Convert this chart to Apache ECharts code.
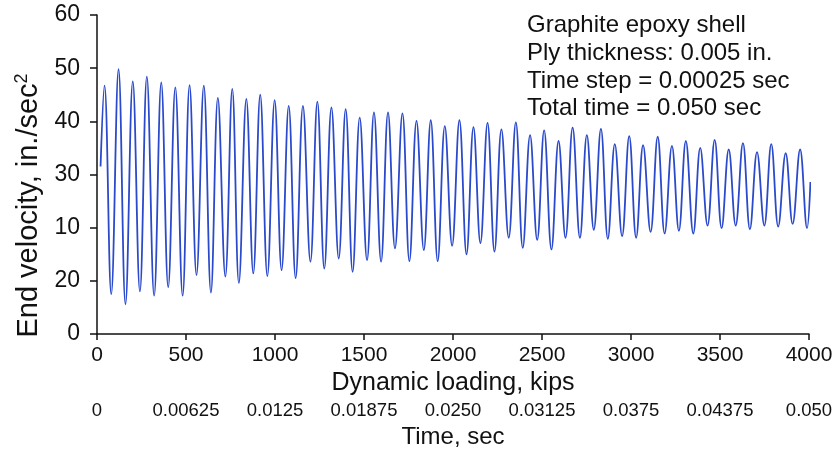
<!DOCTYPE html>
<html>
<head>
<meta charset="utf-8">
<script src="https://cdn.jsdelivr.net/npm/echarts@6/dist/echarts.min.js"></script>
<style>html,body{margin:0;padding:0;background:#fff}#c{width:838px;height:452px}</style>
</head>
<body>
<div id="c"></div>
<script>
// Dynamic loading (kips) at the start, each peak/trough, and the end of the trace
const kips = [20,
  42,80, 121,160, 201,241, 280,321, 361,400, 440,481, 520,559, 600,640, 679,721, 760,797,
  839,878, 917,957, 998,1037, 1077,1116, 1157,1199, 1238,1277, 1317,1358, 1397,1436, 1476,1517,
  1556,1596, 1635,1674, 1716,1755, 1795,1836, 1875,1914, 1954,1995, 2036,2076, 2115,2154, 2194,2233,
  2272,2313, 2353,2392, 2433,2473, 2512,2553, 2593,2632, 2672,2713, 2752,2791, 2831,2870, 2909,2950,
  2990,3029, 3068,3110, 3150,3189, 3230,3269, 3308,3350, 3389,3430, 3470,3509, 3549,3588, 3629,3668,
  3708,3749, 3788,3827, 3869,3908, 3950,3989, 4008];
// End velocity (in./sec^2) at the same points
const velocity = [31.5,
  46.7,7.5, 49.8,5.6, 47.5,8.0, 48.4,7.2, 47.3,8.8, 46.4,7.2, 46.8,11.1, 46.7,7.8, 44.4,10.8, 46.1,9.6,
  44.2,11.4, 45.0,10.9, 44.0,12.0, 42.9,10.5, 42.9,13.6, 43.7,12.3, 42.6,14.2, 42.3,11.7, 40.7,13.9,
  41.7,13.6, 41.7,16.1, 41.5,13.7, 40.1,15.8, 40.2,13.7, 39.1,16.6, 40.2,15.0, 38.9,17.1, 39.7,15.5,
  38.5,18.1, 39.8,16.2, 37.4,17.7, 38.3,15.9, 36.3,18.1, 38.8,18.1, 37.4,19.6, 38.6,17.9, 35.7,18.4,
  37.2,18.1, 35.5,19.2, 37.1,18.9, 35.4,19.4, 36.3,18.9, 35.0,20.4, 36.5,19.9, 34.7,20.4, 35.9,19.7,
  34.2,20.4, 35.7,20.2, 34.0,20.7, 34.7,19.9, 28.6];

const yTickLabels = ['0', '20', '10', '30', '40', '50', '60'];
const xTickLabels = ['0', '500', '1000', '1500', '2000', '2500', '3000', '3500', '4000'];
const timeTickLabels = ['0', '0.00625', '0.0125', '0.01875', '0.0250', '0.03125', '0.0375', '0.04375', '0.050'];
const noteLines = ['Graphite epoxy shell', 'Ply thickness: 0.005 in.', 'Time step = 0.00025 sec', 'Total time = 0.050 sec'];

const FONT = 'Liberation Sans, Arial, Helvetica, sans-serif';
const data = kips.map((k, i) => [k, velocity[i]]);

const chart = echarts.init(document.getElementById('c'), null, {renderer: 'canvas'});
chart.setOption({
  animation: false,
  backgroundColor: '#ffffff',
  textStyle: {fontFamily: FONT},
  title: {
    text: noteLines.join('\n'),
    left: 527, top: 12, padding: 0,
    textStyle: {fontFamily: FONT, fontSize: 24, fontWeight: 'normal', color: '#111', lineHeight: 27.6}
  },
  grid: {left: 97, right: 29, top: 15, bottom: 118, containLabel: false, outerBoundsMode: 'none'},
  xAxis: [{
    type: 'value', min: 0, max: 4000, interval: 500,
    position: 'bottom',
    axisLine: {lineStyle: {color: '#111', width: 1.5}},
    axisTick: {show: true, inside: false, length: 6, lineStyle: {color: '#111', width: 1.5}},
    splitLine: {show: false},
    axisLabel: {color: '#111', fontSize: 21, fontFamily: FONT, margin: 11,
      formatter: (v, i) => xTickLabels[i]},
    name: 'Dynamic loading, kips', nameLocation: 'middle', nameGap: 37,
    nameTextStyle: {color: '#111', fontSize: 25, fontFamily: FONT}
  }, {
    type: 'value', min: 0, max: 0.05, interval: 0.00625,
    position: 'bottom', offset: 61,
    axisLine: {show: false}, axisTick: {show: false}, splitLine: {show: false},
    axisLabel: {color: '#111', fontSize: 18.5, fontFamily: FONT, margin: 6, interval: 0, hideOverlap: false,
      formatter: (v, i) => timeTickLabels[i]},
    name: 'Time, sec', nameLocation: 'middle', nameGap: 30,
    nameTextStyle: {color: '#111', fontSize: 24, fontFamily: FONT}
  }],
  yAxis: {
    type: 'value', min: 0, max: 60, interval: 10,
    axisLine: {show: true, lineStyle: {color: '#111', width: 1.5}},
    axisTick: {show: true, inside: false, length: 7, lineStyle: {color: '#111', width: 1.5}},
    splitLine: {show: false},
    axisLabel: {color: '#111', fontSize: 23, fontFamily: FONT, margin: 17,
      formatter: (v, i) => yTickLabels[i]},
    name: '{a|End velocity, in./sec}{b|2}',
    nameLocation: 'middle', nameRotate: 90, nameGap: 51,
    nameTextStyle: {
      padding: [0, 62, 0, 0],
      rich: {
        a: {fontSize: 29, fontFamily: FONT, color: '#111', lineHeight: 32},
        b: {fontSize: 18, fontFamily: FONT, color: '#111', lineHeight: 32, verticalAlign: 'top'}
      }
    }
  },
  series: [{
    type: 'line', xAxisIndex: 0, data: data,
    smooth: 0.4, showSymbol: false, clip: false,
    lineStyle: {color: '#2b4acb', width: 1.8}
  }]
});
</script>
</body>
</html>
